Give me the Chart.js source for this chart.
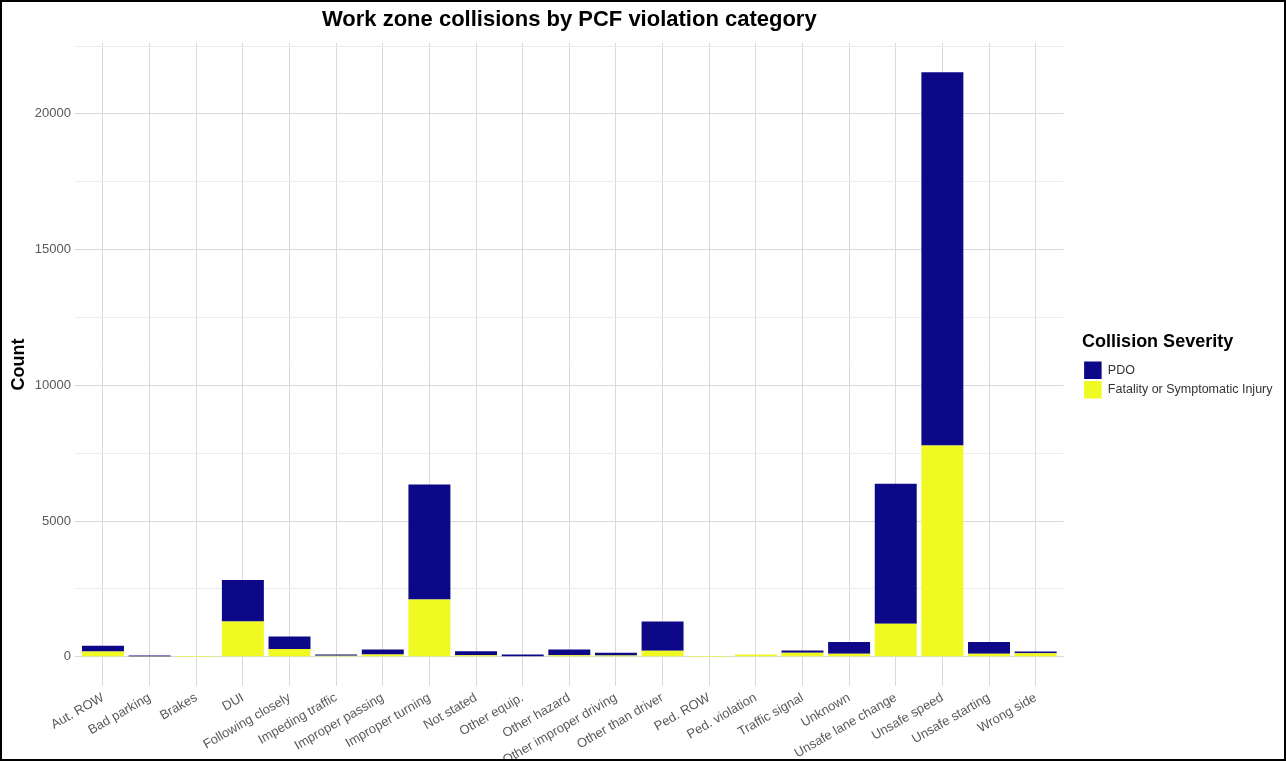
<!DOCTYPE html>
<html>
<head>
<meta charset="utf-8">
<title>Work zone collisions by PCF violation category</title>
<script src="https://cdn.jsdelivr.net/npm/chart.js@4.4.1/dist/chart.umd.min.js"></script>
<style>
  html, body { margin: 0; padding: 0; background: #fff; }
  #wrap { position: relative; width: 1286px; height: 761px; }
  #frame { position: absolute; left: 0; top: 0; right: 0; bottom: 0; border: 2px solid #000; pointer-events: none; }
</style>
</head>
<body>
<div id="wrap">
  <canvas id="myChart" width="1286" height="761"></canvas>
  <div id="frame"></div>
</div>
<script>
const categories = [
  "Aut. ROW", "Bad parking", "Brakes", "DUI", "Following closely",
  "Impeding traffic", "Improper passing", "Improper turning", "Not stated",
  "Other equip.", "Other hazard", "Other improper driving", "Other than driver",
  "Ped. ROW", "Ped. violation", "Traffic signal", "Unknown",
  "Unsafe lane change", "Unsafe speed", "Unsafe starting", "Wrong side"
];

// counts
const fatalInjury = [195, 10, 1, 1300, 290, 40, 80, 2110, 60, 15, 60, 45, 220, 2, 80, 150, 110, 1215, 7780, 110, 130];
const pdo = [215, 35, 2, 1530, 460, 45, 190, 4240, 145, 70, 210, 105, 1080, 0, 5, 85, 430, 5155, 13755, 430, 65];

const yTicks = [0, 2500, 5000, 7500, 10000, 12500, 15000, 17500, 20000, 22500];

const totals = categories.map((c, i) => fatalInjury[i] + pdo[i]);
const maxTotal = Math.max(...totals);

Chart.defaults.font.family = "'Liberation Sans', Arial, sans-serif";

// ggplot puts a gap between the panel and the legend
const legendGap = {
  id: "legendGap",
  afterLayout(chart) {
    const l = chart.legend;
    l.left = chart.chartArea.right + 18.5;
    l.right = l.left + l.width;
  },
};

new Chart("myChart", {
  type: "bar",
  data: {
    datasets: [
      {
        label: "Fatality or Symptomatic Injury",
        data: categories.map((c, i) => ({ x: i, y: fatalInjury[i] })),
        backgroundColor: "#f0f921",
        borderWidth: 0,
      },
      {
        label: "PDO",
        data: categories.map((c, i) => ({ x: i, y: pdo[i] })),
        backgroundColor: "#0d0887",
        borderWidth: 0,
      },
    ],
  },
  options: {
    responsive: false,
    animation: false,
    layout: { padding: { left: 0, right: 22, top: 0, bottom: 0 } },
    datasets: {
      bar: { categoryPercentage: 1, barPercentage: 0.9 },
    },
    plugins: {
      title: {
        display: true,
        fullSize: false,
        text: "Work zone collisions by PCF violation category",
        color: "#000",
        font: { size: 22, weight: "bold" },
        padding: { top: 7, bottom: 9.6 },
      },
      legend: {
        position: "right",
        align: "start",
        reverse: true,
        title: {
          display: true,
          position: "start",
          text: "Collision Severity",
          color: "#000",
          font: { size: 18, weight: "bold" },
          padding: { top: 333, bottom: 5 },
        },
        labels: {
          boxWidth: 17.5,
          boxHeight: 17.5,
          padding: 2,
          color: "#333",
          font: { size: 12.5 },
        },
      },
      tooltip: { enabled: false },
    },
    scales: {
      x: {
        type: "linear",
        stacked: true,
        offset: false,
        min: -0.6,
        max: categories.length - 0.4,
        afterBuildTicks: (s) => {
          s.ticks = categories.map((c, i) => ({ value: i }));
        },
        afterFit: (s) => {
          s.height = 75;
        },
        ticks: {
          autoSkip: false,
          minRotation: 30,
          maxRotation: 30,
          padding: 4,
          color: "#595959",
          font: { size: 13 },
          callback: (v) => categories[v],
        },
        grid: { offset: false, drawTicks: false, color: "#d9d9d9" },
        border: { display: false },
      },
      y: {
        stacked: true,
        min: -0.05 * maxTotal,
        max: maxTotal * 1.05,
        afterBuildTicks: (s) => {
          s.ticks = yTicks.map((v) => ({ value: v }));
        },
        afterFit: (s) => {
          s.width = 75;
        },
        ticks: {
          padding: 4,
          color: "#595959",
          font: { size: 13 },
          callback: (v) => (v % 5000 === 0 ? v : ""),
        },
        grid: {
          drawTicks: false,
          color: (ctx) => (ctx.tick && ctx.tick.value % 5000 === 0 ? "#d9d9d9" : "#ebebeb"),
        },
        border: { display: false },
        title: {
          display: true,
          text: "Count",
          color: "#000",
          font: { size: 18, weight: "bold" },
          padding: { top: 8, bottom: 0 },
        },
      },
    },
  },
  plugins: [legendGap],
});
</script>
</body>
</html>
